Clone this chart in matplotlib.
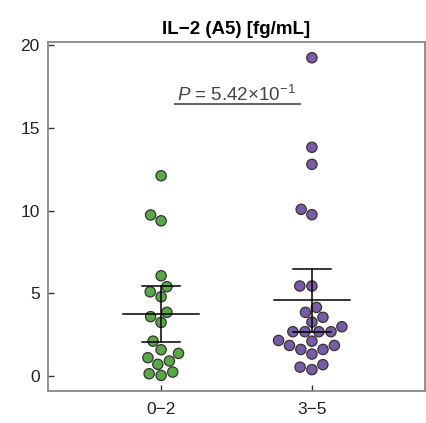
import numpy as np
import pandas as pd
import matplotlib
matplotlib.use("Agg")
import matplotlib.pyplot as plt
import seaborn as sns

groups = ["0\u22122", "3\u22125"]
vals_02 = [12.1, 9.73, 9.38, 6.06, 5.40, 5.09, 4.79, 3.85, 3.59, 3.24,
           2.11, 1.59, 1.37, 1.11, 0.91, 0.71, 0.24, 0.04, 0.14]
vals_35 = [19.23, 13.82, 12.79, 10.07, 9.75, 5.44, 5.44, 4.15, 3.85, 3.55,
           3.26, 2.98, 2.68, 2.68, 2.68, 2.68, 2.15, 2.11, 1.85, 1.85,
           1.61, 1.61, 1.33, 0.69, 0.39, 0.54]
means = [3.73, 4.57]
err_lo = [2.03, 2.66]
err_hi = [5.46, 6.45]
colors = ["#5aa845", "#7a5ca6"]
p_text = r"$\it{P}$ = 5.42$\times$10$^{-1}$"
yticks = [0, 5, 10, 15, 20]


def main():
    plt.rcParams['font.family'] = ['Liberation Sans', 'DejaVu Sans']
    plt.rcParams['mathtext.fontset'] = 'custom'
    plt.rcParams['mathtext.rm'] = 'Liberation Sans'
    plt.rcParams['mathtext.it'] = 'Liberation Sans:italic'

    df = pd.DataFrame({
        'group': [groups[0]] * len(vals_02) + [groups[1]] * len(vals_35),
        'value': vals_02 + vals_35,
    })

    fig = plt.figure(figsize=(4.26, 4.23), dpi=100)
    ax = fig.add_axes([0.1127, 0.0757, 0.885, 0.825])

    sns.swarmplot(data=df, x='group', y='value', hue='group', order=groups,
                  palette=colors, size=7.4, edgecolor='#333333', linewidth=0.9,
                  legend=False, ax=ax)

    # mean and error bars
    for i in range(len(groups)):
        ax.plot([i - 0.25, i + 0.25], [means[i], means[i]], color='black', lw=1.1, zorder=5)
        ax.plot([i, i], [err_lo[i], err_hi[i]], color='black', lw=1.1, zorder=5)
        for v in (err_lo[i], err_hi[i]):
            ax.plot([i - 0.125, i + 0.125], [v, v], color='black', lw=1.1, zorder=5)

    ax.text(0.5, 16.62, p_text, ha='center', va='baseline', fontsize=13.5, color='#444444')
    ax.plot([0.09, 0.92], [16.42, 16.42], color='#555555', lw=1.3)

    ax.set_xlim(-0.75, 1.75)
    ax.set_ylim(-0.9, 20.18)
    ax.set_yticks(yticks)
    ax.set_xlabel('')
    ax.set_ylabel('')
    ax.set_title("IL\u22122 (A5) [fg/mL]", fontsize=13.5, fontweight='bold', pad=6)
    ax.tick_params(direction='in', length=4, width=1, color='#333333',
                   labelsize=12.5, labelcolor='#222222')
    ax.tick_params(axis='y', pad=6)
    ax.tick_params(axis='x', pad=8)
    for s in ax.spines.values():
        s.set_color('#888888')
        s.set_linewidth(1.3)

    fig.savefig('out.png', dpi=100)


if __name__ == "__main__":
    main()
